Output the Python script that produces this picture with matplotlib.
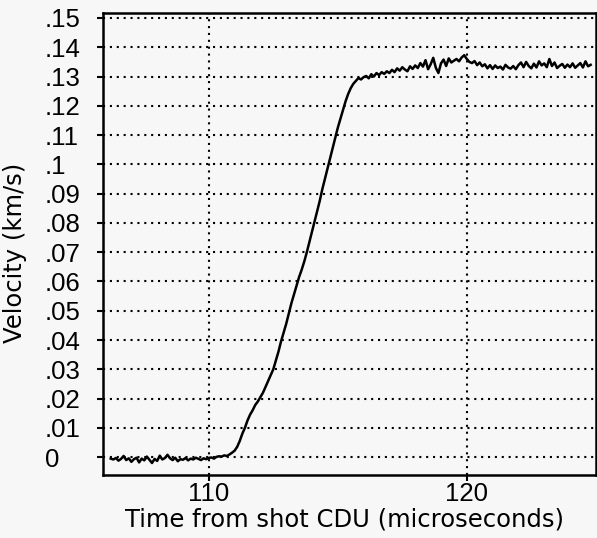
import numpy as np
import matplotlib
matplotlib.use("Agg")
import matplotlib.pyplot as plt

plt.rcParams['font.family'] = ['DejaVu Sans']
TICK_FONT = ['Liberation Sans Narrow', 'Liberation Sans', 'DejaVu Sans']

# sampling of the trace (microseconds)
T_START = 106.2
T_STEP = 0.1

# velocity readings in units of 0.001 km/s
baseline = [-0.5, -0.8, -0.3, -1.2, -0.6, 0.4, -1.0, -0.4, -1.6, -0.7,
            -0.2, -1.8, -0.5, -1.1, 0.2, -0.9, -2.0, -0.6, -1.3, 0.5,
            -0.8, -0.3, 0.8, -0.4, -1.0, -0.2, -1.4, -0.7, -0.9, -0.3,
            -1.1, -0.5, -0.8, -0.2, -0.6, -1.0, -0.4, -0.7, -0.3, -0.1,
            -0.5, 0.1, 0.3, 0.2, 0.6, 0.4, 0.9]
rise = [1.5, 2.2, 3.5, 5.5, 8.0, 10.0, 12.5, 14.5, 16.0, 17.8,
        19.0, 20.5, 22.0, 24.0, 26.0, 28.0, 30.0, 33.0, 36.0, 39.5,
        42.5, 45.5, 49.0, 52.5, 55.5, 58.5, 61.5, 64.0, 66.8, 70.0,
        73.5, 77.0, 80.5, 84.0, 87.5, 91.5, 95.0, 98.5, 102.0, 105.5,
        109.0, 112.5, 115.5, 118.5, 121.5, 124.0, 126.0, 127.5, 128.5, 129.5,
        129.0, 129.8]
plateau = [130.2, 129.4, 130.8, 130.0, 131.2, 130.5, 131.5, 130.9, 131.8,
           131.2, 132.3, 131.5, 132.8, 132.0, 133.2, 132.4, 131.8, 133.5, 132.6,
           133.8, 132.9, 134.6, 133.4, 135.6, 132.5, 134.2, 136.4, 133.0, 131.2,
           134.5, 135.8, 133.6, 136.2, 134.8, 135.4, 136.0, 135.2, 136.5, 137.3,
           136.0, 135.0, 134.6, 135.3, 133.9, 134.8, 133.5, 134.2, 132.8, 133.9,
           132.6, 133.8, 132.9, 133.4, 132.4, 134.0, 133.1, 132.7, 133.6, 132.5,
           133.9, 134.8, 133.2, 135.0, 133.6, 132.8, 134.4, 133.1, 135.2, 133.8,
           134.5, 133.2, 136.0, 133.6, 134.8, 132.9, 133.7, 134.3, 133.0, 134.1,
           133.2, 134.5, 133.0, 133.8, 134.6, 133.1, 135.2, 133.5, 134.0]

y_ticks = [0, 0.01, 0.02, 0.03, 0.04, 0.05, 0.06, 0.07, 0.08, 0.09, 0.10,
           0.11, 0.12, 0.13, 0.14, 0.15]
y_tick_labels = ['0', '.01', '.02', '.03', '.04', '.05', '.06', '.07', '.08',
                 '.09', '.1', '.11', '.12', '.13', '.14', '.15']
x_ticks = [110, 120]
x_tick_labels = ['110', '120']

velocity = np.array(baseline + rise + plateau) / 1000.0
time = T_START + T_STEP * np.arange(len(velocity))

fig = plt.figure(figsize=(5.97, 5.38), dpi=100, facecolor='#f7f7f7')
ax = fig.add_axes([0.1725, 0.1171, 0.8255, 0.8587])
ax.set_facecolor('#f7f7f7')

ax.plot(time, velocity, color='black', lw=1.8)

ax.set_xlim(105.9, 125.0)
ax.set_ylim(-0.0061, 0.1517)
ax.set_xticks(x_ticks)
ax.set_xticklabels(x_tick_labels, family=TICK_FONT, fontsize=18.5)
ax.set_yticks(y_ticks)
ax.set_yticklabels(y_tick_labels, family=TICK_FONT, fontsize=18.5)

for v in y_ticks:
    ax.axhline(v, color='black', lw=1.5, linestyle=(0, (1.0, 2.3)), zorder=1)
for v in x_ticks:
    ax.axvline(v, color='black', lw=1.5, linestyle=(0, (1.0, 2.3)), zorder=1)

for s in ax.spines.values():
    s.set_linewidth(1.8)
    s.set_color('black')

ax.tick_params(axis='y', direction='out', length=4, width=1.5, pad=38)
ax.tick_params(axis='x', direction='out', length=4, width=1.5, pad=1)
for lab in ax.get_yticklabels():
    lab.set_horizontalalignment('left')

ax.set_xlabel('Time from shot CDU (microseconds)', fontsize=17.5)
ax.xaxis.set_label_coords(0.49, -0.071)
ax.set_ylabel('Velocity (km/s)', fontsize=17.5)
ax.yaxis.set_label_coords(-0.155, 0.48)

fig.savefig('out.png', dpi=100, facecolor=fig.get_facecolor())
